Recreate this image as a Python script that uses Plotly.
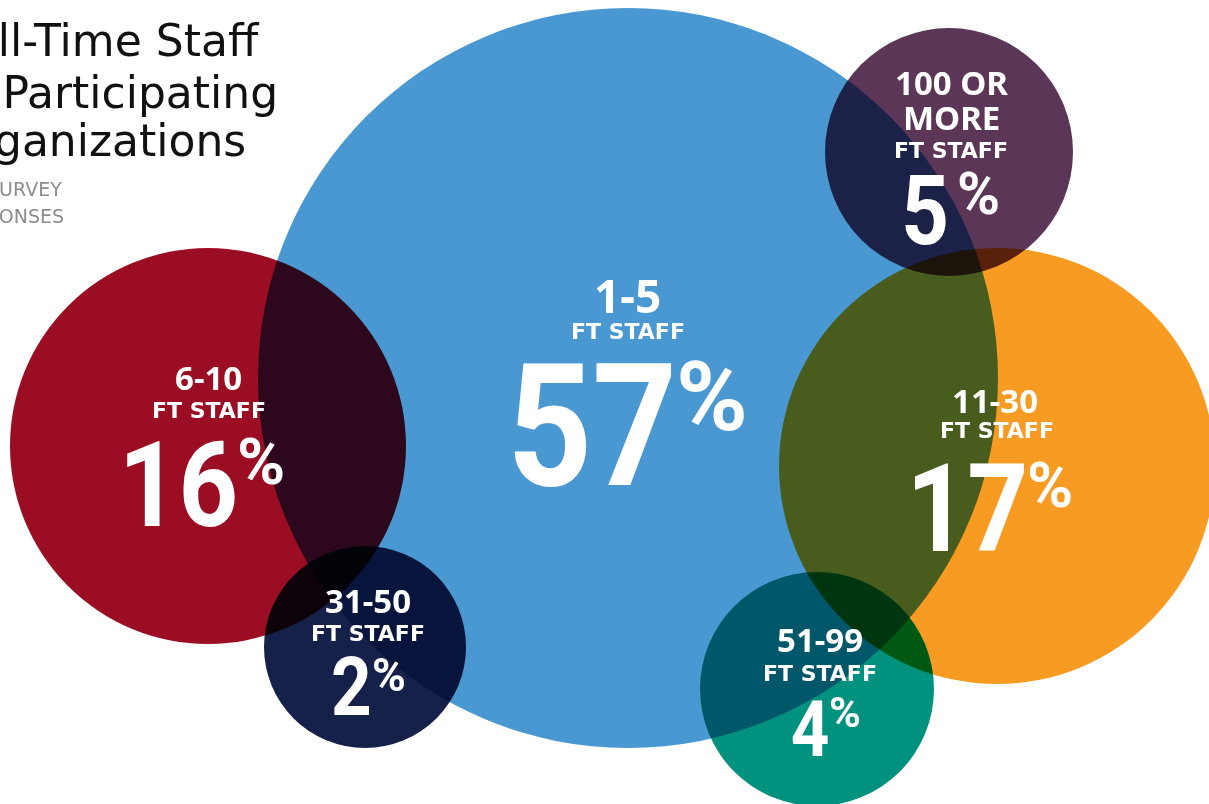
import plotly.graph_objects as go

# ---------------- data ----------------
categories = ["1-5", "6-10", "11-30", "31-50", "51-99", "100 OR MORE"]
label_lines = [["1-5"], ["6-10"], ["11-30"], ["31-50"], ["51-99"], ["100 OR", "MORE"]]
values = [57, 16, 17, 2, 4, 5]
unit_label = "FT STAFF"
title_lines = ["Full-Time Staff", "of Participating", "Organizations"]
subtitle_lines = ["SURVEY", "RESPONSES"]

# ---------------- layout / style ----------------
colors = ["#4A98D2", "#9B0D23", "#F89B23", "#162149", "#00927F", "#5B3656"]
cx = [628, 208, 997, 365, 817, 949]
cy = [378, 446, 466, 647, 689, 152]
rad = [370, 198, 218, 101, 117, 124]

range_x = [627, 208, 995, 368, 820, 951]
range_y = [295, 377, 400, 600, 639, 82]
range_size = [46, 33, 33, 33, 33, 33]
line_gap = 35
staff_x = [628, 209, 997, 368, 820, 951]
staff_y = [331, 410, 430, 633, 673, 150]
staff_size = 22
num_right = [679, 240, 1030, 374, 831, 951]   # where the number ends / % begins
num_y = [427, 485, 509, 687, 729, 211]
num_cap = [121, 85, 87, 58, 55, 68]
pct_gap = [-5, -5, -5, -4, -4, 4]
pct_y = [397, 461, 485, 675, 712, 194]
pct_h = [70, 47, 45, 33, 31, 42]

W, H = 1209, 804
NUM_FONT = "Roboto, sans-serif"
LBL_FONT = "Noto Sans, Open Sans, sans-serif"
STAFF_FONT = "DejaVu Sans, sans-serif"

fig = go.Figure()
fig.add_trace(go.Scatter(
    x=cx, y=cy, mode="markers",
    marker=dict(size=[2 * r for r in rad], sizemode="diameter", color=colors,
                opacity=1, line=dict(width=0)),
    text=categories, hoverinfo="text", showlegend=False,
))

ann = []
for i, cat in enumerate(categories):
    for k, line in enumerate(label_lines[i]):
        ann.append(dict(x=range_x[i], y=range_y[i] + k * line_gap, text=line, xanchor="center",
                        font=dict(family=LBL_FONT, size=range_size[i], color="white", weight="bold")))
    ann.append(dict(x=staff_x[i], y=staff_y[i], text=unit_label, xanchor="center",
                    font=dict(family=STAFF_FONT, size=staff_size, color="white", weight="bold")))
    ann.append(dict(x=num_right[i], y=num_y[i], text=str(values[i]), xanchor="right",
                    font=dict(family=NUM_FONT, size=num_cap[i] / 0.711, color="white", weight="bold")))
    ann.append(dict(x=num_right[i] + pct_gap[i], y=pct_y[i], text="%", xanchor="left",
                    font=dict(family=NUM_FONT, size=pct_h[i] / 0.72, color="white", weight="bold")))
for a in ann:
    a.update(xref="x", yref="y", showarrow=False, yanchor="middle")

title_right = [262, 280, 248]
title_y = [40, 92, 140]
for t, xr, yy in zip(title_lines, title_right, title_y):
    ann.append(dict(x=xr, y=yy, text=t, xref="x", yref="y", showarrow=False,
                    xanchor="right", yanchor="middle",
                    font=dict(family="DejaVu Sans, sans-serif", size=44, color="#111111")))
sub_right = [64, 66]
sub_y = [189, 216]
for t, xr, yy in zip(subtitle_lines, sub_right, sub_y):
    ann.append(dict(x=xr, y=yy, text=t, xref="x", yref="y", showarrow=False,
                    xanchor="right", yanchor="middle",
                    font=dict(family="DejaVu Sans, sans-serif", size=19, color="#8C8C8C")))

fig.update_layout(
    width=W, height=H, margin=dict(l=0, r=0, t=0, b=0),
    paper_bgcolor="white", plot_bgcolor="white",
    xaxis=dict(range=[0, W], visible=False, fixedrange=True),
    yaxis=dict(range=[H, 0], visible=False, fixedrange=True),
    annotations=ann, showlegend=False,
)

css = ".js-plotly-plot .scatterlayer path.point{mix-blend-mode:multiply;}"
post = (
    "var s=document.createElement('style');s.innerHTML='%s';document.head.appendChild(s);"
    "document.querySelectorAll('.annotation-text').forEach(function(t){"
    "if(/^[0-9]+$/.test(t.textContent)){t.style.transformBox='fill-box';"
    "t.style.transformOrigin='100%% 50%%';t.style.transform='scaleX(0.87)';}});" % css
)
fig.write_html("out.html", config={"displayModeBar": False}, post_script=post)
